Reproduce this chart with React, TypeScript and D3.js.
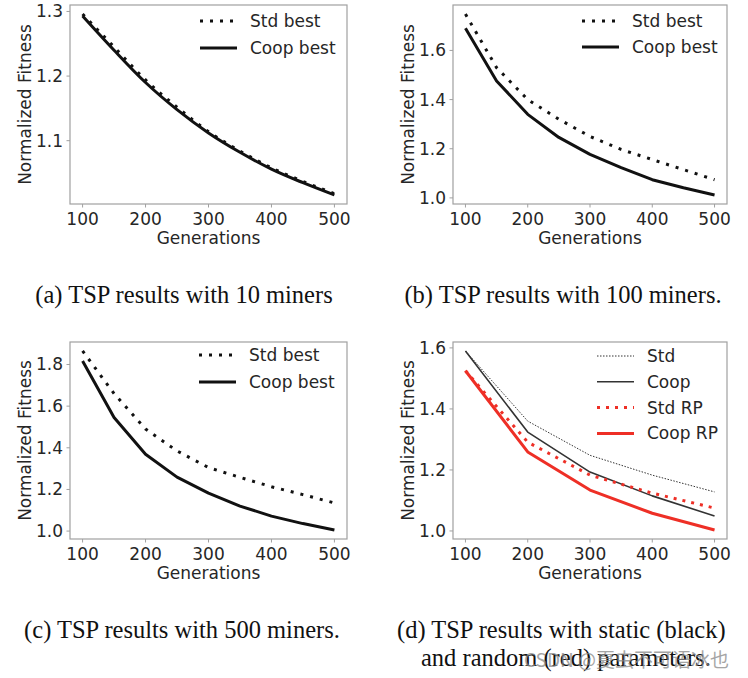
import React from "react";
import * as d3 from "d3";

// ---------- data ----------
const gens50 = [100, 150, 200, 250, 300, 350, 400, 450, 500];
const gens100 = [100, 200, 300, 400, 500];
const xTicks = [100, 200, 300, 400, 500];

// (a) 10 miners
const aStd = [1.296, 1.245, 1.194, 1.152, 1.114, 1.084, 1.058, 1.037, 1.018];
const aCoop = [1.293, 1.240, 1.190, 1.148, 1.112, 1.082, 1.056, 1.035, 1.016];
const aYTicks = [1.1, 1.2, 1.3];

// (b) 100 miners
const bStd = [1.748, 1.53, 1.40, 1.32, 1.25, 1.197, 1.156, 1.115, 1.074];
const bCoop = [1.69, 1.476, 1.34, 1.246, 1.177, 1.123, 1.074, 1.041, 1.012];
const bYTicks = [1.0, 1.2, 1.4, 1.6];

// (c) 500 miners
const cStd = [1.865, 1.66, 1.49, 1.385, 1.305, 1.258, 1.213, 1.175, 1.135];
const cCoop = [1.817, 1.545, 1.369, 1.259, 1.182, 1.12, 1.072, 1.036, 1.005];
const cYTicks = [1.0, 1.2, 1.4, 1.6, 1.8];

// (d) static vs random parameters
const dStd = [1.59, 1.36, 1.248, 1.183, 1.128];
const dCoop = [1.59, 1.324, 1.193, 1.115, 1.049];
const dStdRP = [1.525, 1.291, 1.183, 1.124, 1.075];
const dCoopRP = [1.525, 1.259, 1.134, 1.058, 1.003];
const dYTicks = [1.0, 1.2, 1.4, 1.6];

const captionA = "(a) TSP results with 10 miners";
const captionB = "(b) TSP results with 100 miners.";
const captionC = "(c) TSP results with 500 miners.";
const captionD1 = "(d) TSP results with static (black)";
const captionD2 = "and random (red) parameters.";
const watermark = "CSDN @夏虫不可语冰也";

// ---------- styles ----------
const RED = "#ee2f26";
const SANS = "DejaVu Sans, sans-serif";
const SERIF = "Liberation Serif, Times New Roman, serif";
const TXT = "#262626";

type Style = { stroke: string; width: number; dash?: string };
type Series = { label: string; values: number[]; style: Style };

const thickDot: Style = { stroke: "#111", width: 3, dash: "3 7" };
const thickSolid: Style = { stroke: "#111", width: 3 };

function Panel(props: {
  left: number; top: number; right: number; bottom: number;
  gens: number[]; series: Series[]; yTicks: number[];
  legendX: number; legendY: number; legendStep: number; smooth?: boolean;
}) {
  const { left, top, right, bottom, gens, series, yTicks, legendX, legendY, legendStep } = props;
  const x = d3.scaleLinear().domain([80, 520]).range([left, right]);
  const all = series.flatMap((s) => s.values);
  const [mn, mx] = d3.extent(all) as [number, number];
  const pad = (mx - mn) * 0.05;
  const y = d3.scaleLinear().domain([mn - pad, mx + pad]).range([bottom, top]);
  const line = d3
    .line<number>()
    .x((_, i) => x(gens[i]))
    .y((v) => y(v))
    .curve(props.smooth ? d3.curveMonotoneX : d3.curveLinear);
  const frame = "#a0a0a0";
  return (
    <g>
      {series.map((s, i) => (
        <path
          key={i}
          d={line(s.values) || ""}
          fill="none"
          stroke={s.style.stroke}
          strokeWidth={s.style.width}
          strokeDasharray={s.style.dash}
          strokeLinejoin="round"
        />
      ))}
      <rect x={left} y={top} width={right - left} height={bottom - top} fill="none" stroke={frame} strokeWidth={1.2} />
      {xTicks.map((t) => (
        <g key={t}>
          <line x1={x(t)} x2={x(t)} y1={bottom} y2={bottom + 3.5} stroke={frame} />
          <text x={x(t)} y={bottom + 21} textAnchor="middle" fontFamily={SANS} fontSize={17} fill={TXT}>
            {t}
          </text>
        </g>
      ))}
      {yTicks.map((t) => (
        <g key={t}>
          <line x1={left - 3.5} x2={left} y1={y(t)} y2={y(t)} stroke={frame} />
          <text x={left - 7} y={y(t) + 6} textAnchor="end" fontFamily={SANS} fontSize={17} fill={TXT}>
            {t.toFixed(1)}
          </text>
        </g>
      ))}
      <text x={(left + right) / 2} y={bottom + 40} textAnchor="middle" fontFamily={SANS} fontSize={17} fill={TXT}>
        Generations
      </text>
      <text
        transform={`translate(${left - 45},${(top + bottom) / 2}) rotate(-90)`}
        textAnchor="middle"
        dominantBaseline="central"
        fontFamily={SANS}
        fontSize={17}
        fill={TXT}
      >
        Normalized Fitness
      </text>
      {series.map((s, i) => {
        const ly = legendY + i * legendStep;
        return (
          <g key={"l" + i}>
            <line
              x1={legendX}
              x2={legendX + 37}
              y1={ly}
              y2={ly}
              stroke={s.style.stroke}
              strokeWidth={s.style.width}
              strokeDasharray={s.style.dash}
            />
            <text x={legendX + 50} y={ly + 6} fontFamily={SANS} fontSize={17} fill={TXT}>
              {s.label}
            </text>
          </g>
        );
      })}
    </g>
  );
}

export default function App() {
  return (
    <svg
      width={748}
      height={678}
      style={{ position: "absolute", left: 0, top: 0, background: "#fff" }}
    >
      <rect width={748} height={678} fill="#fff" />
      <Panel
        left={70} top={5} right={347} bottom={204}
        gens={gens50}
        series={[
          { label: "Std best", values: aStd, style: thickDot },
          { label: "Coop best", values: aCoop, style: thickSolid },
        ]}
        yTicks={aYTicks}
        legendX={200} legendY={21} legendStep={27} smooth
      />
      <Panel
        left={453} top={5} right={727} bottom={204}
        gens={gens50}
        series={[
          { label: "Std best", values: bStd, style: thickDot },
          { label: "Coop best", values: bCoop, style: thickSolid },
        ]}
        yTicks={bYTicks}
        legendX={582} legendY={21} legendStep={26}
      />
      <Panel
        left={70} top={342} right={347} bottom={539}
        gens={gens50}
        series={[
          { label: "Std best", values: cStd, style: thickDot },
          { label: "Coop best", values: cCoop, style: thickSolid },
        ]}
        yTicks={cYTicks}
        legendX={199} legendY={355} legendStep={27}
      />
      <Panel
        left={453} top={342} right={727} bottom={539}
        gens={gens100}
        series={[
          { label: "Std", values: dStd, style: { stroke: "#333", width: 1, dash: "1.5 1.5" } },
          { label: "Coop", values: dCoop, style: { stroke: "#333", width: 1.6 } },
          { label: "Std RP", values: dStdRP, style: { stroke: RED, width: 3, dash: "3 6" } },
          { label: "Coop RP", values: dCoopRP, style: { stroke: RED, width: 3 } },
        ]}
        yTicks={dYTicks}
        legendX={597} legendY={356} legendStep={25.8}
      />
      <text x={184} y={303} textAnchor="middle" fontFamily={SERIF} fontSize={24.5} fill="#111">{captionA}</text>
      <text x={563} y={303} textAnchor="middle" fontFamily={SERIF} fontSize={24.5} fill="#111">{captionB}</text>
      <text x={182} y={638} textAnchor="middle" fontFamily={SERIF} fontSize={24.5} fill="#111">{captionC}</text>
      <text x={397} y={638} fontFamily={SERIF} fontSize={24.5} fill="#111">{captionD1}</text>
      <text x={421} y={666} fontFamily={SERIF} fontSize={24.5} fill="#111">{captionD2}</text>
      <text x={524} y={667} fontFamily="Noto Sans CJK SC, DejaVu Sans, sans-serif" fontSize={19} fill="#888" opacity={0.75}>{watermark}</text>
    </svg>
  );
}
